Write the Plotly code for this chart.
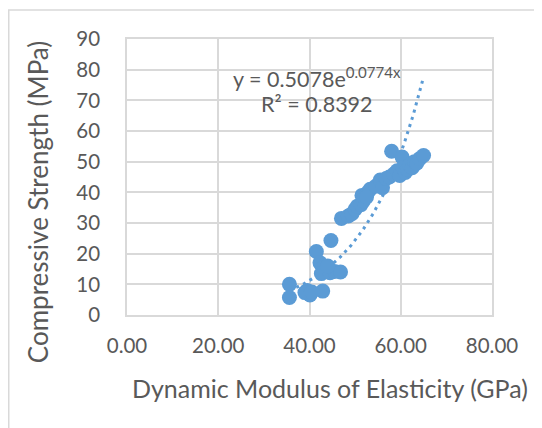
import numpy as np
import plotly.graph_objects as go

# Data
modulus_gpa = [35.6, 35.6, 39.5, 39.0, 40.1, 40.5, 42.9, 41.5, 44.7, 42.3, 43.0, 43.5,
               42.6, 44.5, 45.5, 46.8, 44.0,
               47.0, 48.5, 49.3, 50.0, 50.5, 51.3, 51.8, 51.5, 52.8, 53.3, 52.5, 54.5,
               55.5, 56.0, 56.8, 57.5, 58.0, 58.5, 59.2, 59.8, 60.3, 60.5, 61.0, 61.5,
               62.0, 62.5, 63.0, 63.5, 64.2, 65.0]
strength_mpa = [10.0, 5.7, 8.0, 7.3, 6.5, 7.5, 7.8, 20.7, 24.3, 17.0, 15.5, 14.5,
                13.5, 13.8, 14.2, 14.0, 16.0,
                31.5, 32.3, 33.0, 34.5, 35.5, 36.0, 37.2, 39.0, 40.0, 41.0, 38.5, 42.0,
                44.0, 41.5, 44.5, 45.0, 53.4, 46.0, 47.0, 45.5, 51.5, 48.0, 46.5, 47.5,
                49.0, 48.0, 50.0, 49.5, 51.0, 52.0]

# Exponential trendline shown on the chart
trend_a = 0.5078
trend_b = 0.0774
r_squared = 0.8392

x_ticks = [0, 20, 40, 60, 80]
y_ticks = [0, 10, 20, 30, 40, 50, 60, 70, 80, 90]

x_title = "Dynamic Modulus of Elasticity (GPa)"
y_title = "Compressive Strength (MPa)"

blue = "#5B9BD5"
grid = "#D9D9D9"
txt = "#595959"
font_family = "Lato, Carlito, Calibri, sans-serif"

tx = np.linspace(min(modulus_gpa), max(modulus_gpa), 200)
ty = trend_a * np.exp(trend_b * tx)

fig = go.Figure()
fig.add_trace(go.Scatter(
    x=tx, y=ty, mode="lines",
    line=dict(color=blue, width=3, dash="3px,4.5px"),
    hoverinfo="skip", showlegend=False,
))
fig.add_trace(go.Scatter(
    x=modulus_gpa, y=strength_mpa, mode="markers",
    marker=dict(color=blue, size=15, line=dict(width=0)),
    showlegend=False,
))

fig.add_annotation(x=41.7, y=77.3, xref="x", yref="y",
                   text=f"y = {trend_a}e<sup>{trend_b}x</sup>", showarrow=False,
                   font=dict(family=font_family, size=21.5, color=txt))
fig.add_annotation(x=41.7, y=68.8, xref="x", yref="y",
                   text=f"R² = {r_squared}", showarrow=False,
                   font=dict(family=font_family, size=21.5, color=txt))

# axis titles
fig.add_annotation(x=0.556, y=-0.2645, xref="paper", yref="paper",
                   text=x_title, showarrow=False, xanchor="center", yanchor="middle",
                   font=dict(family=font_family, size=25, color=txt))
fig.add_annotation(x=-0.2438, y=0.409, xref="paper", yref="paper",
                   text=y_title, showarrow=False, textangle=-90,
                   xanchor="center", yanchor="middle",
                   font=dict(family=font_family, size=26, color=txt))

# chart border
fig.add_shape(type="rect", xref="paper", yref="paper",
              x0=-0.324, x1=1.2, y0=-0.5, y1=1.105,
              line=dict(color=grid, width=1.5), fillcolor="rgba(0,0,0,0)", layer="below")

fig.update_layout(
    width=542, height=428,
    margin=dict(l=119, r=58, t=31, b=121),
    paper_bgcolor="white", plot_bgcolor="white",
    font=dict(family=font_family, size=20, color=txt),
    xaxis=dict(
        range=[0, 80], tickvals=x_ticks, tickformat=".2f",
        showgrid=True, gridcolor=grid, gridwidth=1.5,
        showline=True, linecolor=grid, linewidth=1.5, mirror=True,
        zeroline=False, ticks="", ticklabelstandoff=12,
        tickfont=dict(size=20.5),
        automargin=False,
    ),
    yaxis=dict(
        range=[0, 90], tickvals=y_ticks,
        showgrid=True, gridcolor=grid, gridwidth=1.5,
        showline=True, linecolor=grid, linewidth=1.5, mirror=True,
        zeroline=False, ticks="", ticklabelstandoff=21,
        tickfont=dict(size=20.5),
        automargin=False,
    ),
)

fig.write_html("out.html")
